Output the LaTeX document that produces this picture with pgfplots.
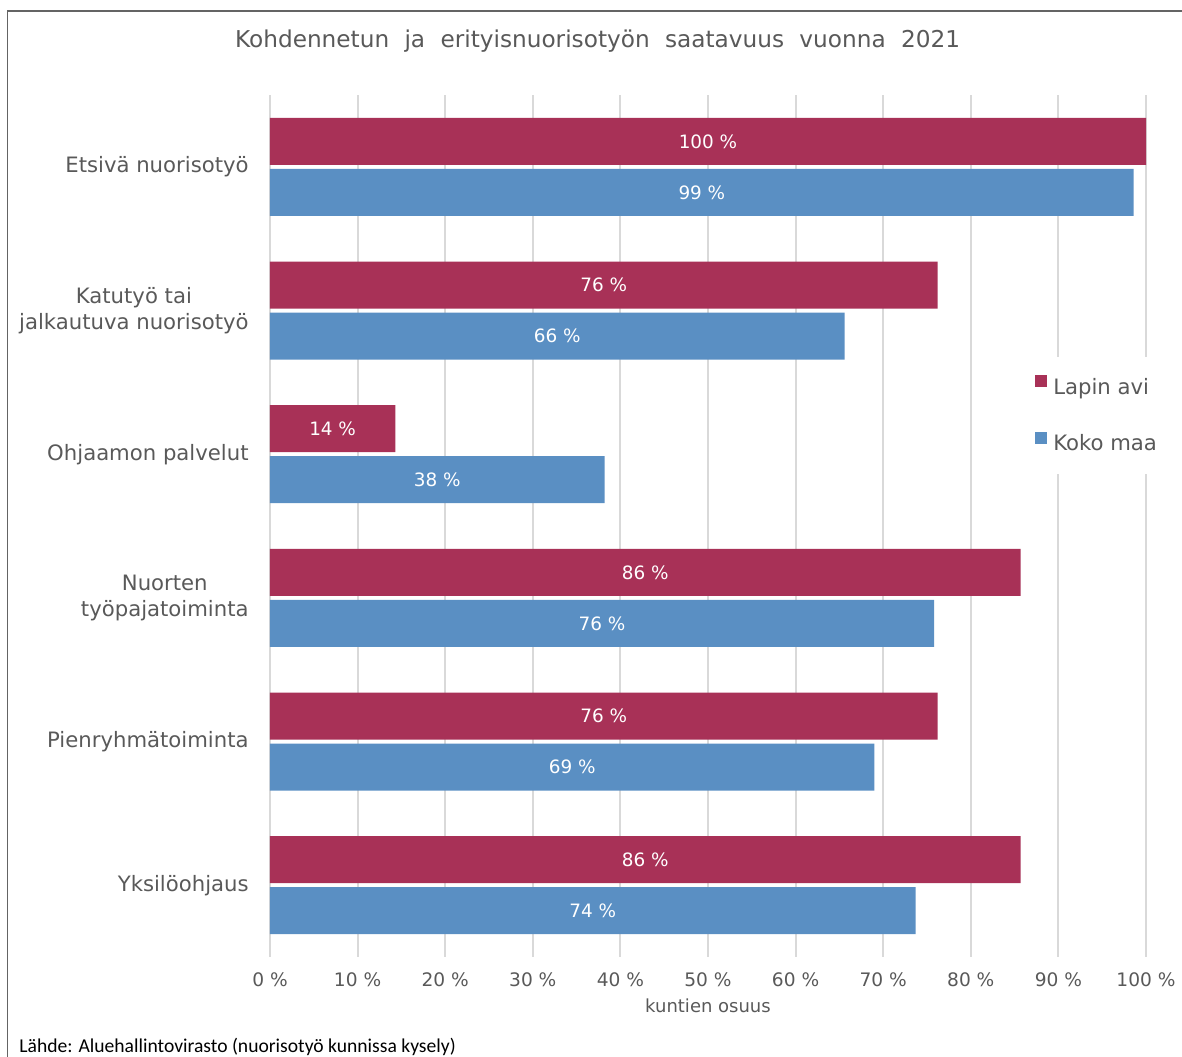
\documentclass[border=0pt]{standalone}
\usepackage{fontspec}
\setmainfont{DejaVu Sans}
\newfontfamily\footfont{Carlito}
\usepackage{pgfplots}
\pgfplotsset{compat=1.18}
\definecolor{lapin}{RGB}{168,49,87}
\definecolor{koko}{RGB}{90,143,195}
\definecolor{txt}{RGB}{89,89,89}
\definecolor{gridc}{RGB}{217,217,217}
\definecolor{framec}{RGB}{100,100,100}
\begin{document}
\begin{tikzpicture}
\useasboundingbox (0,0) rectangle (591pt,-528pt);
\draw[framec, line width=0.8pt] (3.75pt,-560pt) -- (3.75pt,-5.5pt) -- (620pt,-5.5pt);
\node[anchor=base, text=txt, font=\fontsize{11.6}{14}\selectfont, inner sep=0pt] at (298.75pt,-23.5pt) {\spaceskip=0.66em Kohdennetun ja erityisnuorisotyön saatavuus vuonna 2021};
\node[anchor=base west, text=black, font=\footfont\fontsize{9.8}{12}\selectfont, inner sep=0pt] at (9.5pt,-526pt) {Lähde: Aluehallintovirasto (nuorisotyö kunnissa kysely)};
\begin{axis}[
  at={(135pt,-478.5pt)}, anchor=south west,
  scale only axis, width=438pt, height=431pt,
  xmin=0, xmax=100, ymin=-0.5, ymax=5.5, y dir=reverse,
  xbar, bar width=23.5pt,
  axis line style={draw=none},
  major tick length=0pt,
  xtick={0,10,...,100},
  xmajorgrids, major grid style={gridc, line width=1pt},
  ytick={0,...,5},
  yticklabels={Etsivä nuorisotyö, {Katutyö tai\\jalkautuva nuorisotyö}, Ohjaamon palvelut, {Nuorten\\työpajatoiminta}, Pienryhmätoiminta, Yksilöohjaus},
  yticklabel style={font=\fontsize{10.6}{12.8}\selectfont, text=txt, align=center, inner sep=0pt, xshift=-10.5pt},
  xticklabel={\pgfmathprintnumber{\tick} \%},
  xticklabel style={font=\fontsize{9.3}{11}\selectfont, text=txt, anchor=base, inner sep=0pt, yshift=-14.5pt},
  /pgf/number format/assume math mode=true,
  xlabel={kuntien osuus},
  xlabel style={font=\fontsize{9}{11}\selectfont, text=txt, at={(axis description cs:0.5,0)}, anchor=base, inner sep=0pt, yshift=-27.5pt},
  nodes near coords={\pgfmathprintnumber[fixed,precision=0]{\pgfplotspointmeta} \%},
  point meta=x,
  visualization depends on=x \as \rawx,
  every node near coord/.append style={anchor=center, text=white, font=\fontsize{9.2}{11}\selectfont, shift={(axis direction cs:-\rawx/2,0)}},
  legend style={at={(0.864,0.696)}, anchor=north west, draw=none, fill=white, font=\fontsize{10.6}{12}\selectfont, text=txt, inner xsep=4pt, inner ysep=9pt, row sep=16.5pt, nodes={inner xsep=3pt, inner ysep=0pt, text height=8pt, text depth=2.5pt}},
  legend cell align=left,
  legend image code/.code={\fill[#1] (0pt,0.6pt) rectangle (6pt,6.6pt);},
]
\addplot[fill=lapin, draw=none, bar shift=12.75pt] coordinates {(100,0) (76.2,1) (14.3,2) (85.7,3) (76.2,4) (85.7,5)};
\addlegendentry{Lapin avi}
\addplot[fill=koko, draw=none, bar shift=-12.75pt] coordinates {(98.6,0) (65.6,1) (38.2,2) (75.8,3) (69.0,4) (73.7,5)};
\addlegendentry{Koko maa}
\end{axis}
\end{tikzpicture}
\end{document}
